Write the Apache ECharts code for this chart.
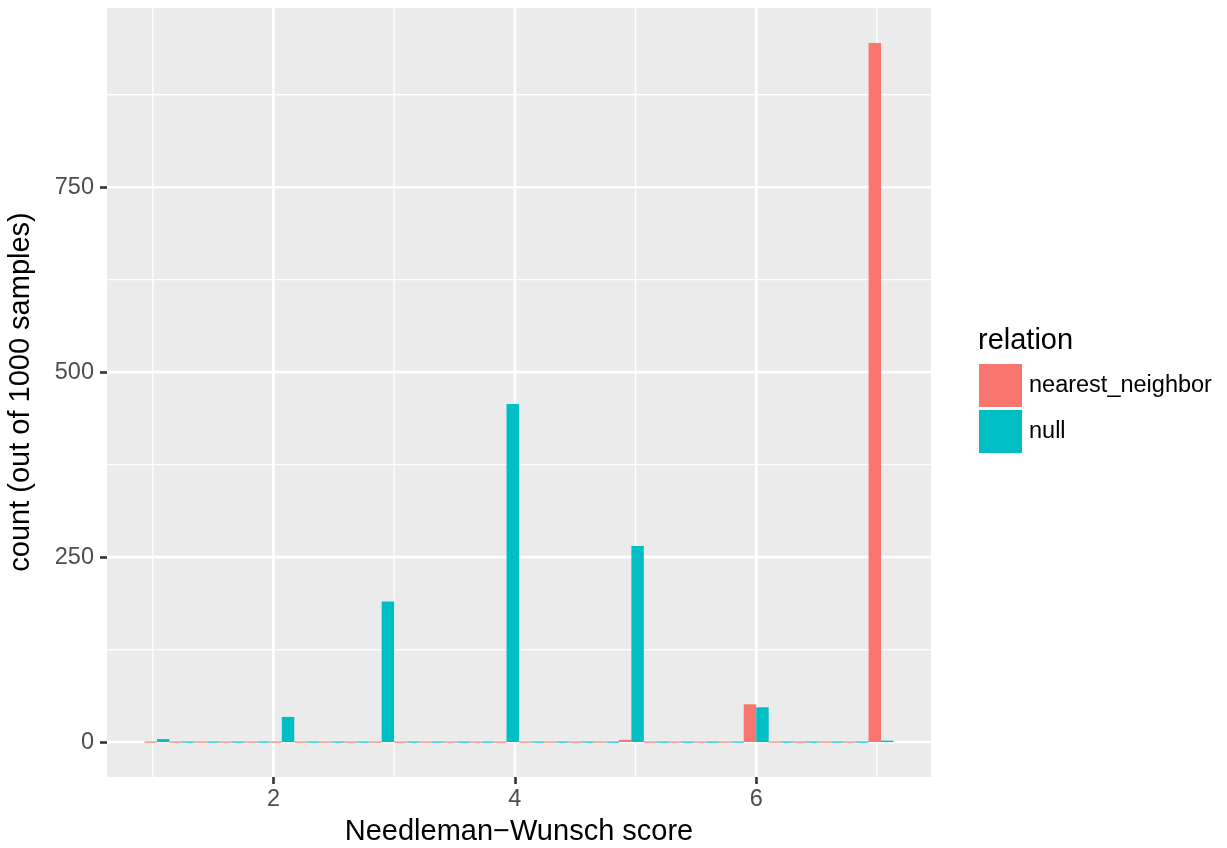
<!DOCTYPE html>
<html><head><meta charset="utf-8">
<script src="https://cdn.jsdelivr.net/npm/echarts@6/dist/echarts.min.js"></script>
<style>html,body{margin:0;padding:0;background:#fff}#c{width:1227px;height:848px}</style>
</head><body><div id="c"></div>
<script>
// ---- data ----
const relations = ['nearest_neighbor', 'null'];
const relationColors = ['#F8766D', '#00BFC4'];
const binWidth = 6 / 29;          // 30 histogram bins over scores 1..7
const binOrigin = 0.931034;       // left edge of first bin
const nearestNeighborCounts = [0,0,0,0,0, 0,0,0,0,0, 0,0,0,0,0, 0,0,0,0,3, 0,0,0,0,51, 0,0,0,0,945];
const nullCounts            = [4,0,0,0,0, 34,0,0,0,190, 0,0,0,0,457, 0,0,0,0,265, 0,0,0,0,47, 0,0,0,0,2];
const xTickValues = [2, 4, 6];
const xMinorValues = [1, 3, 5, 7];
const yTickValues = [0, 250, 500, 750];
const yMinorValues = [125, 375, 625, 875];
const xRange = [0.620690, 7.448276];
const yRange = [-47.25, 992.25];

// ---- build ----
const FONT = 'Liberation Sans, Arial, sans-serif';
const countsBySeries = [nearestNeighborCounts, nullCounts];

function binData(counts) {
  return counts.map((c, i) => [binOrigin + (i + 0.5) * binWidth, c]);
}

function barRenderer(side) {
  return function (params, api) {
    const center = api.value(0);
    const count = api.value(1);
    const x0 = center - binWidth / 2 + side * binWidth / 2;
    const x1 = x0 + binWidth / 2;
    const pTop = api.coord([x0, count]);
    const pBase = api.coord([x1, 0]);
    let h = pBase[1] - pTop[1];
    let y = pTop[1];
    if (h < 1.2) { y = pBase[1] - 0.6; h = 1.2; }
    return {
      type: 'rect',
      shape: { x: pTop[0], y: y, width: pBase[0] - pTop[0], height: h },
      style: { fill: relationColors[side] }
    };
  };
}

function gridRenderer(vertical) {
  return function (params, api) {
    const v = api.value(vertical ? 0 : 1);
    const major = api.value(2) === 1;
    const cs = params.coordSys;
    let shape;
    if (vertical) {
      const x = api.coord([v, 0])[0];
      shape = { x1: x, y1: cs.y, x2: x, y2: cs.y + cs.height };
    } else {
      const y = api.coord([xRange[0], v])[1];
      shape = { x1: cs.x, y1: y, x2: cs.x + cs.width, y2: y };
    }
    return { type: 'line', shape: shape, style: { stroke: '#FFFFFF', lineWidth: major ? 2.6 : 1.3 } };
  };
}

const vGridData = xTickValues.map(v => [v, 0, 1]).concat(xMinorValues.map(v => [v, 0, 0]));
const hGridData = yTickValues.map(v => [xRange[0], v, 1]).concat(yMinorValues.map(v => [xRange[0], v, 0]));

const chart = echarts.init(document.getElementById('c'), null, { renderer: 'canvas' });
chart.setOption({
  animation: false,
  backgroundColor: '#FFFFFF',
  grid: { left: 107, top: 8, right: 296, bottom: 71, show: true, backgroundColor: '#EBEBEB', borderWidth: 0 },
  xAxis: {
    type: 'value', min: xRange[0], max: xRange[1],
    axisLine: { show: false, onZero: false },
    splitLine: { show: false },
    axisTick: { show: true, customValues: xTickValues, length: 7, lineStyle: { color: '#333333', width: 2.6 } },
    axisLabel: { customValues: xTickValues, color: '#4D4D4D', fontSize: 23.5, fontFamily: FONT, margin: 11 }
  },
  yAxis: {
    type: 'value', min: yRange[0], max: yRange[1],
    axisLine: { show: false, onZero: false },
    splitLine: { show: false },
    axisTick: { show: true, customValues: yTickValues, length: 7, lineStyle: { color: '#333333', width: 2.6 } },
    axisLabel: { customValues: yTickValues, color: '#4D4D4D', fontSize: 23.5, fontFamily: FONT, margin: 13 }
  },
  legend: {
    data: relations,
    orient: 'vertical', left: 979, top: 364, padding: 0,
    itemWidth: 43, itemHeight: 43, itemGap: 3,
    icon: 'rect',
    selectedMode: false,
    textStyle: { fontSize: 23.5, color: '#000000', fontFamily: FONT, padding: [0, 0, 0, 2] }
  },
  graphic: [
    { type: 'text', left: 978, top: 326, style: { text: 'relation', fontSize: 29, fontFamily: FONT, fill: '#000000' } },
    { type: 'text', x: 519, y: 832, style: { text: 'Needleman\u2212Wunsch score', fontSize: 29, fontFamily: FONT, fill: '#000000', align: 'center', verticalAlign: 'middle' } },
    { type: 'text', x: 21, y: 392, rotation: Math.PI / 2, style: { text: 'count (out of 1000 samples)', fontSize: 29, fontFamily: FONT, fill: '#000000', align: 'center', verticalAlign: 'middle' } }
  ],
  series: [
    { type: 'custom', name: 'vgrid', renderItem: gridRenderer(true), data: vGridData, z: 1, silent: true },
    { type: 'custom', name: 'hgrid', renderItem: gridRenderer(false), data: hGridData, z: 1, silent: true },
    { type: 'custom', name: relations[0], renderItem: barRenderer(0), data: binData(countsBySeries[0]), itemStyle: { color: relationColors[0] }, z: 2 },
    { type: 'custom', name: relations[1], renderItem: barRenderer(1), data: binData(countsBySeries[1]), itemStyle: { color: relationColors[1] }, z: 2 }
  ]
});
</script>
</body></html>
